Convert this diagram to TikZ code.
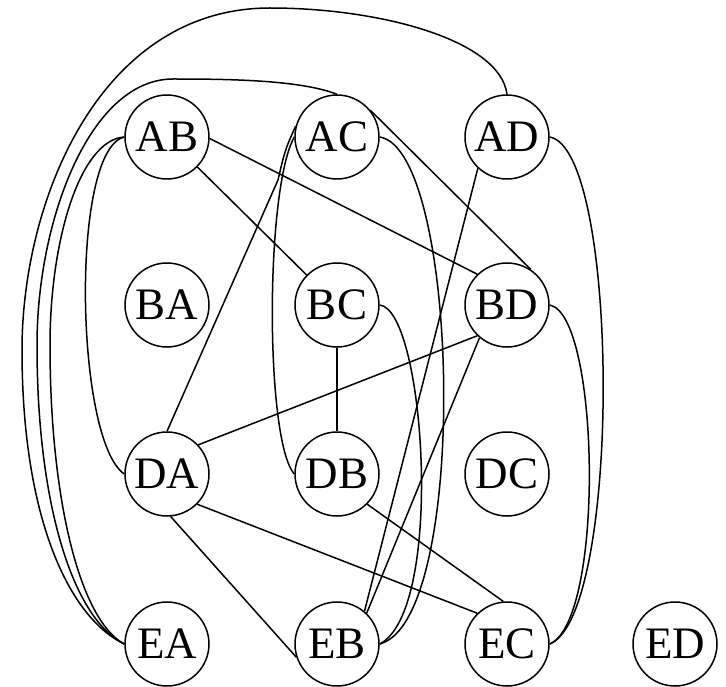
\documentclass[tikz,border=0pt]{standalone}
\usepackage{fontspec}
\setmainfont{Liberation Serif}
\begin{document}
\begin{tikzpicture}[x=1pt,y=-1pt,
  st/.style={circle,draw,line width=1.5pt,minimum size=84pt,inner sep=0pt,font=\fontsize{45}{45}\selectfont},
  ed/.style={line width=1.5pt}]
\useasboundingbox (0,0) rectangle (726,687);
\node[st] (AB) at (167,137) {AB};
\node[st] (AC) at (337,137) {AC};
\node[st] (AD) at (507,137) {AD};
\node[st] (BA) at (167,305) {BA};
\node[st] (BC) at (337,305) {BC};
\node[st] (BD) at (507,305) {BD};
\node[st] (DA) at (167,474) {DA};
\node[st] (DB) at (337,474) {DB};
\node[st] (DC) at (507,474) {DC};
\node[st] (EA) at (167,644) {EA};
\node[st] (EB) at (337,644) {EB};
\node[st] (EC) at (507,644) {EC};
\node[st] (ED) at (675,644) {ED};
% long left arcs
\draw[ed] (AD.north) .. controls (500,40) and (380,8) .. (270,8) .. controls (100,8) and (22,200) .. (22,350) .. controls (22,520) and (70,618) .. (EA.west);
\draw[ed] (AC.north) .. controls (300,80) and (230,79) .. (173,79) .. controls (90,79) and (37,220) .. (37,345) .. controls (37,510) and (75,620) .. (EA.west);
\draw[ed] (AB.west) .. controls (80,140) and (50,240) .. (50,345) .. controls (50,500) and (80,620) .. (EA.west);
\draw[ed] (AB.west) .. controls (70,150) and (75,440) .. (DA.west);
% other connectors
\draw[ed] (AB.-2) -- (BD.134);
\draw[ed] (AB) -- (BC);
\draw[ed] (AC.39) -- (BD.56);
\draw[ed] (AC.165) .. controls (285,150) .. (278,180) -- (DA.north);
\draw[ed] (AC.west) .. controls (265,190) and (265,440) .. (DB.west);
\draw[ed] (AC.east) .. controls (460,150) and (470,620) .. (EB.east);
\draw[ed] (AD.east) .. controls (620,150) and (622,615) .. (EC.east);
\draw[ed] (AD.227) -- (EB.50);
\draw[ed] (BC) -- (DB);
\draw[ed] (BC.east) .. controls (425,310) and (445,610) .. (EB.east);
\draw[ed] (BD.226) -- (DA.43);
\draw[ed] (BD.230) -- (EB.46);
\draw[ed] (BD.east) .. controls (600,315) and (605,620) .. (EC.east);
\draw[ed] (DA.-45) -- (EC.134);
\draw[ed] (DA.-85) -- (EB.198);
\draw[ed] (DB.-45) -- (EC.95);
\end{tikzpicture}
\end{document}
